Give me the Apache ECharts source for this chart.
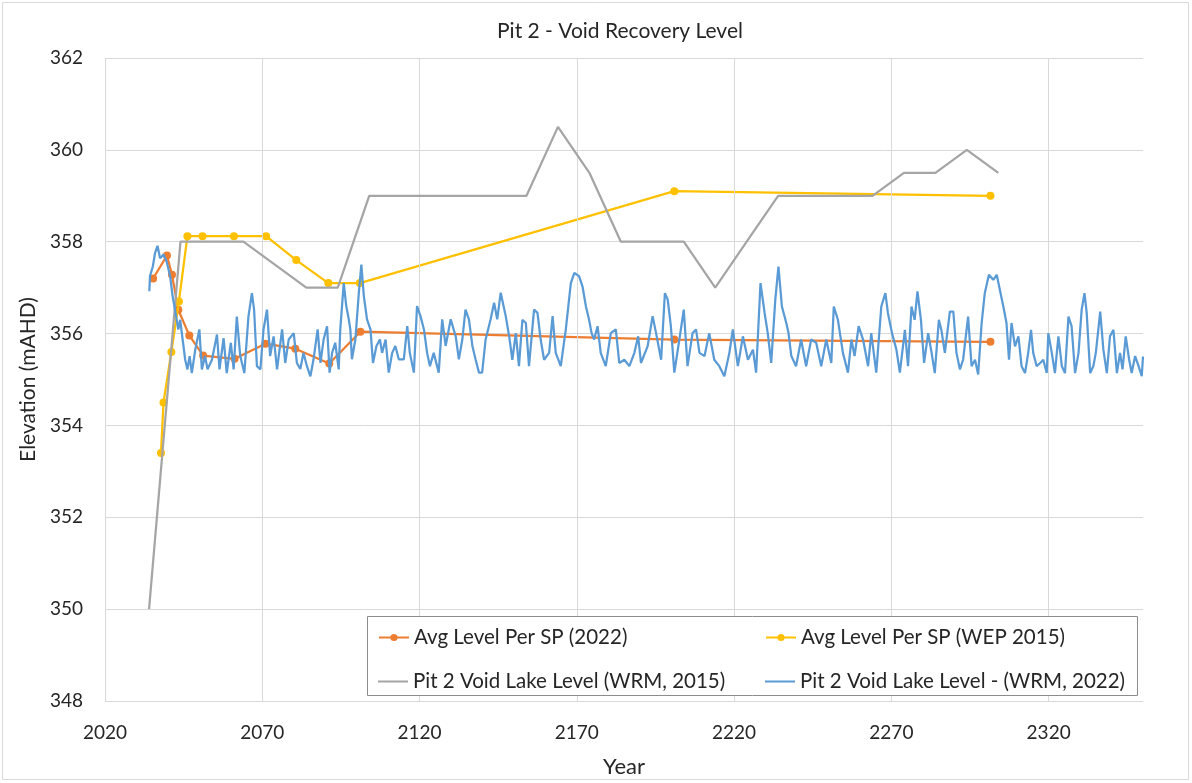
<!DOCTYPE html>
<html>
<head>
<meta charset="utf-8">
<script src="https://cdn.jsdelivr.net/npm/echarts@6/dist/echarts.min.js"></script>
<style>
html,body{margin:0;padding:0;background:#fff;}
#c{width:1192px;height:783px;}
</style>
</head>
<body>
<div id="c"></div>
<script>
// ---- Data ----
const xTicks = [2020, 2070, 2120, 2170, 2220, 2270, 2320];

const sp2022Years = [2035.3, 2039.7, 2041.3, 2043.3, 2046.8, 2051.2, 2061.2, 2071.0, 2080.5, 2091.3, 2101.2, 2201.0, 2301.5];
const sp2022Levels = [357.2, 357.7, 357.28, 356.52, 355.96, 355.52, 355.45, 355.78, 355.67, 355.35, 356.04, 355.87, 355.82];

const wep2015Years = [2037.8, 2038.6, 2041.1, 2043.5, 2046.2, 2051.0, 2061.0, 2071.2, 2080.8, 2091.0, 2101.0, 2201.0, 2301.5];
const wep2015Levels = [353.4, 354.5, 355.6, 356.7, 358.12, 358.12, 358.12, 358.12, 357.6, 357.1, 357.1, 359.1, 359.0];

const wrm2015Years = [2034, 2044, 2054, 2064, 2074, 2084, 2094, 2104, 2114, 2124, 2134, 2144, 2154, 2164, 2174, 2184, 2194, 2204, 2214, 2224, 2234, 2244, 2254, 2264, 2274, 2284, 2294, 2304];
const wrm2015Levels = [350, 358, 358, 358, 357.5, 357, 357, 359, 359, 359, 359, 359, 359, 360.5, 359.5, 358, 358, 358, 357, 358, 359, 359, 359, 359, 359.5, 359.5, 360, 359.5];

const wrm2022Years = [
2034.1,2034.3,2035.2,2035.9,2036.7,2037.5,2038.6,2039.6,2040.7,2041.5,2042.6,2043.3,2043.9,2044.7,2045.5,2046.2,2046.9,2047.6,2048.7,2050.0,
2050.8,2051.8,2052.6,2054.0,2055.6,2056.4,2057.7,2058.7,2060.0,2060.9,2061.9,2063.0,2064.3,2065.6,2066.7,2067.4,2068.3,2069.4,2070.4,2071.5,
2072.5,2073.6,2074.7,2076.3,2077.3,2078.4,2080.0,2081.0,2082.1,2083.1,2084.2,2085.3,2086.3,2087.6,2088.5,2089.5,2090.6,2091.4,2092.2,2093.2,
2094.3,2094.8,2095.9,2096.7,2097.5,2098.0,2098.5,2099.6,2100.7,2101.5,2102.3,2103.3,2104.4,2105.2,2106.3,2107.4,2108.1,2109.2,2110.2,2111.3,
2112.3,2113.4,2115.0,2116.1,2116.9,2118.2,2119.2,2120.3,2121.4,2122.4,2123.3,2124.5,2126.1,2127.2,2128.3,2129.9,2131.5,2132.5,2133.6,2134.6,
2135.7,2136.8,2137.8,2138.9,2139.9,2141.0,2142.6,2143.7,2144.7,2145.8,2147.4,2148.5,2149.5,2150.6,2151.6,2152.7,2153.8,2154.8,2156.4,2157.5,
2158.5,2159.6,2161.2,2162.3,2163.3,2164.9,2166.5,2168.1,2169.2,2170.7,2171.8,2172.9,2173.9,2174.7,2175.5,2176.6,2177.6,2179.2,2180.8,2182.4,
2183.5,2185.1,2186.7,2188.3,2189.5,2190.4,2192.5,2194.1,2195.2,2196.8,2198.0,2198.9,2199.9,2201.0,2202.6,2204.0,2205.2,2206.8,2207.9,2209.0,
2210.6,2212.1,2213.7,2215.3,2216.9,2218.5,2219.6,2221.2,2222.8,2224.4,2226.0,2227.0,2228.4,2229.7,2230.7,2231.8,2233.1,2234.1,2235.2,2236.6,
2237.3,2238.2,2239.7,2241.3,2242.9,2244.5,2246.1,2247.7,2249.3,2250.9,2251.7,2253.0,2254.6,2256.2,2257.3,2258.3,2259.6,2261.0,2262.6,2263.6,
2265.2,2266.8,2268.1,2268.9,2270.2,2271.6,2272.7,2274.3,2275.3,2276.4,2277.4,2278.3,2279.4,2280.4,2281.7,2282.8,2283.8,2285.1,2285.9,2287.0,
2288.6,2289.7,2290.7,2291.8,2292.8,2294.4,2295.5,2296.6,2297.6,2298.7,2299.7,2301.0,2302.4,2303.5,2304.5,2305.6,2306.6,2307.4,2308.2,2309.3,
2310.4,2311.4,2312.5,2313.5,2314.4,2315.1,2316.2,2317.3,2318.3,2319.4,2319.9,2321.0,2322.0,2323.1,2324.2,2325.2,2326.3,2327.3,2328.4,2329.5,
2330.5,2331.4,2332.1,2333.2,2334.2,2335.0,2336.4,2337.4,2338.5,2339.5,2340.6,2341.7,2342.7,2343.5,2344.5,2345.6,2346.4,2347.5,2348.6,2349.6,
2350.0];
const wrm2022Levels = [
356.92,357.25,357.46,357.75,357.91,357.64,357.72,357.57,357.25,356.81,356.38,356.09,356.30,355.86,355.43,355.22,355.51,355.14,355.65,356.09,
355.22,355.51,355.22,355.43,355.98,355.22,355.90,355.14,355.80,355.22,356.37,355.51,355.14,356.37,356.88,356.52,355.29,355.22,356.09,356.52,
355.51,355.94,355.22,356.09,355.36,355.87,356.01,355.36,355.23,355.58,355.29,355.07,355.44,356.09,355.36,355.87,356.16,355.15,355.58,355.80,
355.22,356.09,357.10,356.60,356.31,356.09,355.44,355.87,356.89,357.50,356.81,356.31,356.09,355.36,355.73,355.87,355.58,355.87,355.15,355.58,
355.73,355.44,355.44,356.16,355.58,355.15,356.60,356.38,356.09,355.58,355.29,355.58,355.15,356.31,355.73,356.31,355.94,355.44,355.87,356.52,
356.31,355.73,355.44,355.15,355.15,355.87,356.31,356.67,356.31,356.89,356.38,355.94,355.43,356.01,355.29,356.30,356.23,355.29,356.52,356.45,
355.87,355.43,355.58,356.38,355.58,355.29,356.09,357.10,357.32,357.25,357.03,356.59,356.30,356.01,355.87,356.16,355.58,355.29,356.01,356.09,
355.36,355.43,355.29,355.58,355.94,355.36,355.72,356.38,356.01,355.43,356.88,356.74,356.16,355.15,355.87,356.52,355.29,356.01,356.09,355.58,
355.51,356.01,355.43,355.29,355.07,355.58,356.09,355.29,355.94,355.43,355.65,355.15,357.10,356.45,356.01,355.36,356.74,357.46,356.59,356.23,
356.01,355.51,355.29,355.87,355.29,355.87,355.80,355.29,355.87,355.36,356.59,356.30,355.58,355.15,355.87,355.51,356.16,355.87,355.29,356.01,
355.15,356.59,356.88,356.45,356.01,355.65,355.15,356.08,355.29,356.59,356.30,356.92,356.30,355.36,356.01,355.58,355.14,356.30,356.08,355.58,
356.48,356.48,355.58,355.22,355.43,356.37,355.29,355.43,355.11,356.23,356.88,357.28,357.17,357.28,356.95,356.59,356.23,355.43,356.23,355.72,
355.94,355.29,355.14,355.58,356.08,355.58,355.29,355.36,355.43,355.14,356.01,355.58,355.14,355.94,355.29,355.14,356.37,356.16,355.14,355.58,
356.52,356.88,356.45,355.14,355.29,355.58,356.48,355.65,355.14,355.94,356.08,355.14,355.58,355.22,355.94,355.43,355.14,355.51,355.29,355.07,
355.50];

const seriesNames = [
  'Avg Level Per SP (2022)',
  'Avg Level Per SP (WEP 2015)',
  'Pit 2 Void Lake Level (WRM, 2015)',
  'Pit 2 Void Lake Level - (WRM, 2022)'
];

function pairs(xs, ys) { return xs.map((x, i) => [x, ys[i]]); }

const font = 'Lato, "Open Sans", sans-serif';
const textColor = '#262626';
const gridColor = '#d9d9d9';

const chart = echarts.init(document.getElementById('c'), null, {renderer: 'canvas'});

const legendBase = {
  orient: 'horizontal',
  itemWidth: 30,
  itemHeight: 9,
  textStyle: {fontFamily: font, fontSize: 20.5, color: textColor},
  z: 120,
  selectedMode: false
};
const lineIcon = 'rect';

chart.setOption({
  backgroundColor: '#ffffff',
  animation: false,
  title: {
    text: 'Pit 2 - Void Recovery Level',
    left: 615, top: 16, textAlign: 'center',
    textStyle: {fontFamily: font, fontSize: 21, fontWeight: 'normal', color: textColor}
  },
  grid: {left: 105, top: 58, right: 49, bottom: 81, containLabel: false},
  xAxis: {
    type: 'value', min: 2020, max: 2350, interval: 50,
    name: 'Year', nameLocation: 'middle', nameGap: 55,
    nameTextStyle: {fontFamily: font, fontSize: 22, color: textColor},
    axisLine: {show: false}, axisTick: {show: false},
    splitLine: {show: false},
    axisLabel: {fontFamily: font, fontSize: 19, color: textColor, margin: 22, showMaxLabel: false,
      formatter: v => String(Math.round(v))}
  },
  yAxis: {
    type: 'value', min: 348, max: 362, interval: 2,
    name: 'Elevation (mAHD)', nameLocation: 'middle', nameGap: 66, nameRotate: 90,
    nameTextStyle: {fontFamily: font, fontSize: 21, color: textColor},
    axisLine: {show: false}, axisTick: {show: false},
    splitLine: {show: true, lineStyle: {color: gridColor, width: 1}},
    axisLabel: {fontFamily: font, fontSize: 19, color: textColor, margin: 22}
  },
  legend: [
    Object.assign({}, legendBase, {data: [seriesNames[0]], left: 373, top: 622}),
    Object.assign({}, legendBase, {data: [seriesNames[1]], left: 760, top: 622}),
    Object.assign({}, legendBase, {data: [{name: seriesNames[2], icon: lineIcon}], itemHeight: 2, left: 373, top: 666}),
    Object.assign({}, legendBase, {data: [{name: seriesNames[3], icon: lineIcon}], itemHeight: 2, left: 760, top: 666})
  ],
  graphic: [
    {type: 'rect', z: 100, shape: {x: 367.5, y: 616.5, width: 770, height: 79},
     style: {fill: '#ffffff', stroke: '#8c8c8c', lineWidth: 1}},
    {type: 'rect', z: 0, shape: {x: 2.5, y: 2.5, width: 1186, height: 777},
     style: {fill: 'none', stroke: '#d9d9d9', lineWidth: 1}}
  ],
  series: [
    {
      name: 'grid-x', type: 'line', data: [], silent: true, z: 1,
      markLine: {
        silent: true, symbol: 'none', label: {show: false},
        lineStyle: {color: gridColor, width: 1, type: 'solid'},
        data: xTicks.map(v => ({xAxis: v}))
      }
    },
    {
      name: seriesNames[0], type: 'line', data: pairs(sp2022Years, sp2022Levels),
      symbol: 'circle', symbolSize: 8, z: 3,
      itemStyle: {color: '#ED7D31'}, lineStyle: {color: '#ED7D31', width: 2.25}
    },
    {
      name: seriesNames[1], type: 'line', data: pairs(wep2015Years, wep2015Levels),
      symbol: 'circle', symbolSize: 8, z: 4,
      itemStyle: {color: '#FFC000'}, lineStyle: {color: '#FFC000', width: 2.25}
    },
    {
      name: seriesNames[2], type: 'line', data: pairs(wrm2015Years, wrm2015Levels),
      symbol: 'none', z: 5,
      itemStyle: {color: '#A5A5A5'}, lineStyle: {color: '#A5A5A5', width: 2.25}
    },
    {
      name: seriesNames[3], type: 'line', data: pairs(wrm2022Years, wrm2022Levels),
      symbol: 'none', z: 6, clip: true,
      itemStyle: {color: '#5B9BD5'}, lineStyle: {color: '#5B9BD5', width: 2.25}
    }
  ]
});
</script>
</body>
</html>
